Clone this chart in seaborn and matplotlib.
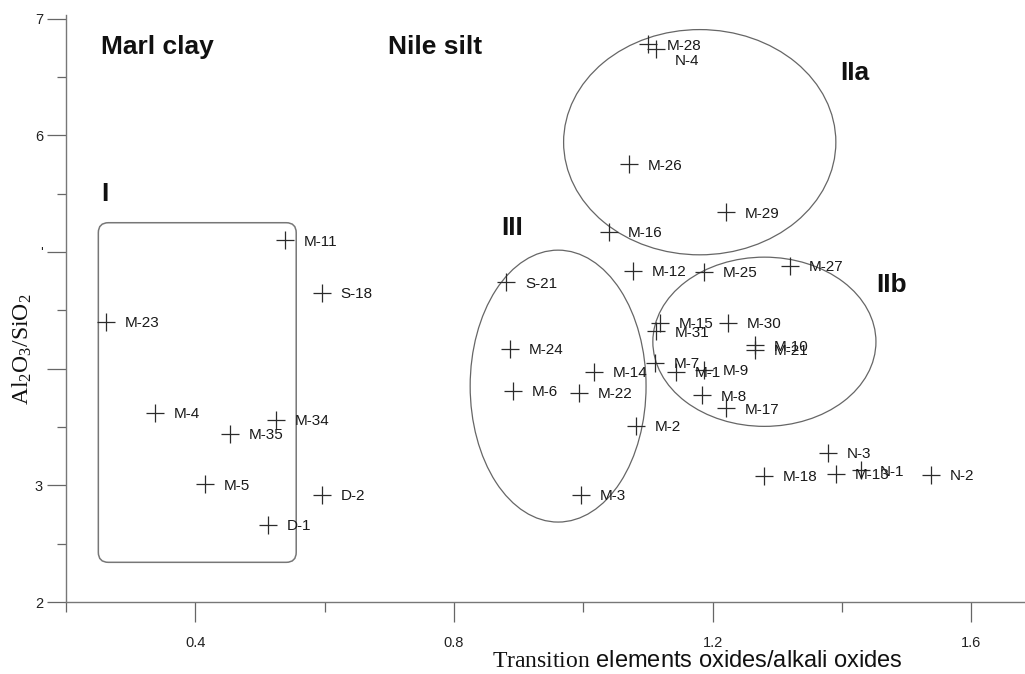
import matplotlib
matplotlib.use("Agg")
import matplotlib.pyplot as plt
from matplotlib.patches import Ellipse, FancyBboxPatch
from matplotlib.ticker import FixedLocator, FixedFormatter
import seaborn as sns
import pandas as pd

# Sample identifiers and their two geochemical ratios
samples = ["M-23", "M-4", "M-35", "M-34", "M-5", "D-1", "D-2", "M-11", "S-18",
           "M-28", "N-4", "M-26", "M-29", "M-16", "M-12", "M-25", "M-27",
           "S-21", "M-24", "M-14", "M-6", "M-22", "M-2", "M-3",
           "M-15", "M-31", "M-30", "M-10", "M-21", "M-7", "M-1", "M-9", "M-8", "M-17",
           "N-3", "M-18", "M-13", "N-1", "N-2"]
transition_alkali = [0.262, 0.338, 0.453, 0.525, 0.415, 0.513, 0.596, 0.539, 0.596,
                     1.100, 1.113, 1.071, 1.221, 1.039, 1.077, 1.187, 1.319,
                     0.881, 0.887, 1.016, 0.892, 0.994, 1.081, 0.997,
                     1.119, 1.113, 1.223, 1.266, 1.266, 1.111, 1.144, 1.187, 1.184, 1.220,
                     1.379, 1.280, 1.390, 1.429, 1.537]
al_si = [4.40, 3.62, 3.44, 3.56, 3.01, 2.66, 2.92, 5.10, 4.65,
         6.78, 6.74, 5.75, 5.34, 5.17, 4.84, 4.83, 4.88,
         4.74, 4.17, 3.97, 3.81, 3.79, 3.51, 2.92,
         4.39, 4.32, 4.39, 4.20, 4.16, 4.05, 3.97, 3.99, 3.77, 3.66,
         3.28, 3.08, 3.10, 3.13, 3.09]

y_tick_values = [2, 3, 4, 5, 6, 7]
y_tick_labels = ["2", "3", "", "'", "6", "7"]
x_tick_values = [0.4, 0.8, 1.2, 1.6]
x_tick_labels = ["0.4", "0.8", "1.2", "1.6"]

df = pd.DataFrame({"sample": samples, "x": transition_alkali, "y": al_si})

sns.set_style("white")
plt.rcParams["font.family"] = ["Liberation Sans", "DejaVu Sans"]
plt.rcParams["mathtext.fontset"] = "custom"
plt.rcParams["mathtext.rm"] = "Liberation Serif"
plt.rcParams["mathtext.it"] = "Liberation Serif:italic"

fig = plt.figure(figsize=(10.25, 6.74), dpi=100)
ax = fig.add_axes([66 / 1025, 72 / 674, 959 / 1025, 587 / 674])

sns.scatterplot(data=df, x="x", y="y", marker="+", s=13.5 ** 2,
                color="#2b2b2b", linewidth=0.9, ax=ax, legend=False, zorder=3)

# sample labels to the right of each cross
label_offsets = {"N-4": (13, -8.5)}
for name, xv, yv in zip(samples, transition_alkali, al_si):
    dx, dy = label_offsets.get(name, (13.5, -1))
    ax.annotate(name, (xv, yv), xytext=(dx, dy), textcoords="offset points",
                ha="left", va="center", fontsize=11, color="#1a1a1a")

ax.set_xlim(0.2, 1.683)
ax.set_ylim(2, 7.03)

# group outlines
px_per_x = 646.5
px_per_y = 116.7
ax.add_patch(FancyBboxPatch((0.250, 2.34), 0.306, 2.91,
                            boxstyle="round,pad=0,rounding_size=0.0155",
                            mutation_aspect=px_per_x / px_per_y,
                            fill=False, ec="#777777", lw=1.1, zorder=2))
ax.add_patch(Ellipse((1.180, 5.94), 0.421, 1.93, fill=False, ec="#666666", lw=0.9, zorder=2))
ax.add_patch(Ellipse((0.961, 3.85), 0.272, 2.33, fill=False, ec="#666666", lw=0.9, zorder=2))
ax.add_patch(Ellipse((1.280, 4.23), 0.345, 1.45, fill=False, ec="#666666", lw=0.9, zorder=2))

# group names
for txt, xv, yv in [("Marl clay", 0.2546, 6.70), ("Nile silt", 0.6985, 6.70),
                    ("I", 0.2546, 5.44), ("III", 0.873, 5.145),
                    ("IIa", 1.398, 6.473), ("IIb", 1.453, 4.656)]:
    ax.text(xv, yv, txt, fontsize=19, fontweight="bold", ha="left",
            va="baseline", color="#111111")

# axes styling
for side in ["top", "right"]:
    ax.spines[side].set_visible(False)
for side in ["left", "bottom"]:
    ax.spines[side].set_color("#777777")
    ax.spines[side].set_linewidth(1.0)

ax.xaxis.set_major_locator(FixedLocator(x_tick_values))
ax.xaxis.set_major_formatter(FixedFormatter(x_tick_labels))
ax.xaxis.set_minor_locator(FixedLocator([0.2, 0.6, 1.0, 1.4]))
ax.yaxis.set_major_locator(FixedLocator(y_tick_values))
ax.yaxis.set_major_formatter(FixedFormatter(y_tick_labels))
ax.yaxis.set_minor_locator(FixedLocator([2.5, 3.5, 4.5, 5.5, 6.5]))

ax.tick_params(which="both", bottom=True, left=True, top=False, right=False)
ax.tick_params(axis="x", which="major", direction="out", length=14.5, width=0.9,
               color="#666666", labelsize=10.5, pad=10, labelcolor="#222222")
ax.tick_params(axis="x", which="minor", direction="out", length=7.5, width=0.9,
               color="#666666")
ax.tick_params(axis="y", which="major", direction="out", length=13.5, width=0.9,
               color="#666666", labelsize=10.5, pad=3, labelcolor="#222222")
ax.tick_params(axis="y", which="minor", direction="out", length=6.5, width=0.9,
               color="#666666")

ax.set_xlabel(r"$\mathrm{Transition}$ elements oxides/alkali oxides",
              fontsize=17, color="#111111")
ax.xaxis.set_label_coords(0.658, -0.081)
ax.set_ylabel(r"$\mathrm{Al_2O_3/SiO_2}$", fontsize=17, color="#111111")
ax.yaxis.set_label_coords(-0.046, 0.43)
ax.yaxis.label.set_va("center")

fig.savefig("out.png", dpi=100)
